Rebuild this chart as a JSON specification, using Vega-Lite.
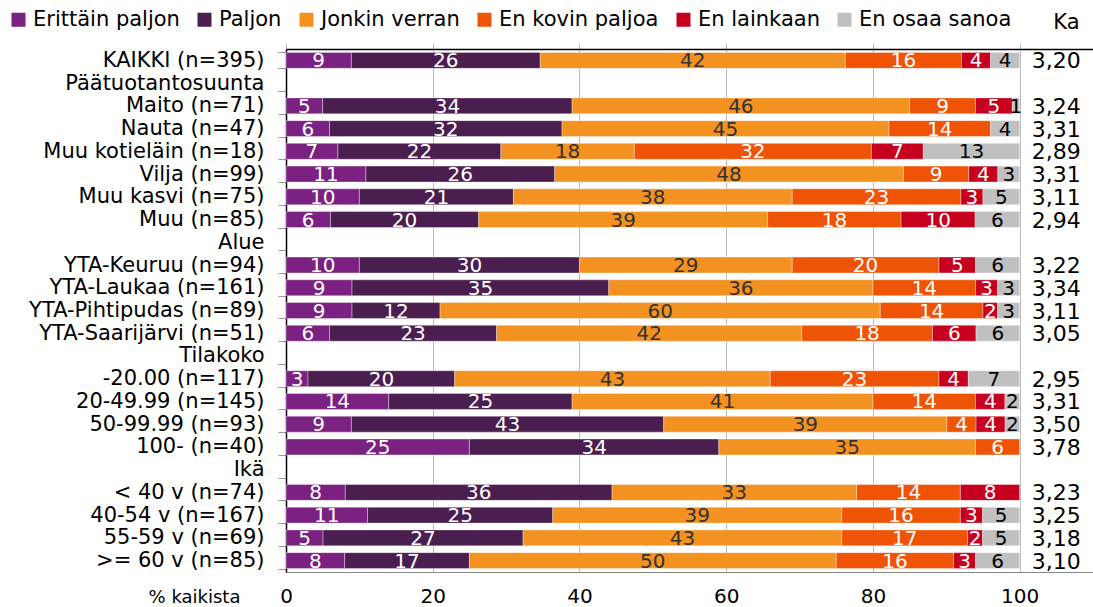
{
  "$schema": "https://vega.github.io/schema/vega-lite/v6.json",
  "autosize": {"type": "none"},
  "width": 807,
  "height": 523,
  "padding": {"left": 286, "top": 49, "right": 0, "bottom": 35},
  "config": {
    "font": "DejaVu Sans",
    "view": {"stroke": null},
    "locale": {"number": {"decimal": ",", "thousands": " ", "grouping": [3], "currency": ["", " €"]}}
  },
  "datasets": {
    "resp": [
      {"cat": "KAIKKI (n=395)", "resp": "Erittäin paljon", "k": 1, "v": 9},
      {"cat": "KAIKKI (n=395)", "resp": "Paljon", "k": 2, "v": 26},
      {"cat": "KAIKKI (n=395)", "resp": "Jonkin verran", "k": 3, "v": 42},
      {"cat": "KAIKKI (n=395)", "resp": "En kovin paljoa", "k": 4, "v": 16},
      {"cat": "KAIKKI (n=395)", "resp": "En lainkaan", "k": 5, "v": 4},
      {"cat": "KAIKKI (n=395)", "resp": "En osaa sanoa", "k": 6, "v": 4},
      {"cat": "Maito (n=71)", "resp": "Erittäin paljon", "k": 1, "v": 5},
      {"cat": "Maito (n=71)", "resp": "Paljon", "k": 2, "v": 34},
      {"cat": "Maito (n=71)", "resp": "Jonkin verran", "k": 3, "v": 46},
      {"cat": "Maito (n=71)", "resp": "En kovin paljoa", "k": 4, "v": 9},
      {"cat": "Maito (n=71)", "resp": "En lainkaan", "k": 5, "v": 5},
      {"cat": "Maito (n=71)", "resp": "En osaa sanoa", "k": 6, "v": 1},
      {"cat": "Nauta (n=47)", "resp": "Erittäin paljon", "k": 1, "v": 6},
      {"cat": "Nauta (n=47)", "resp": "Paljon", "k": 2, "v": 32},
      {"cat": "Nauta (n=47)", "resp": "Jonkin verran", "k": 3, "v": 45},
      {"cat": "Nauta (n=47)", "resp": "En kovin paljoa", "k": 4, "v": 14},
      {"cat": "Nauta (n=47)", "resp": "En osaa sanoa", "k": 6, "v": 4},
      {"cat": "Muu kotieläin (n=18)", "resp": "Erittäin paljon", "k": 1, "v": 7},
      {"cat": "Muu kotieläin (n=18)", "resp": "Paljon", "k": 2, "v": 22},
      {"cat": "Muu kotieläin (n=18)", "resp": "Jonkin verran", "k": 3, "v": 18},
      {"cat": "Muu kotieläin (n=18)", "resp": "En kovin paljoa", "k": 4, "v": 32},
      {"cat": "Muu kotieläin (n=18)", "resp": "En lainkaan", "k": 5, "v": 7},
      {"cat": "Muu kotieläin (n=18)", "resp": "En osaa sanoa", "k": 6, "v": 13},
      {"cat": "Vilja (n=99)", "resp": "Erittäin paljon", "k": 1, "v": 11},
      {"cat": "Vilja (n=99)", "resp": "Paljon", "k": 2, "v": 26},
      {"cat": "Vilja (n=99)", "resp": "Jonkin verran", "k": 3, "v": 48},
      {"cat": "Vilja (n=99)", "resp": "En kovin paljoa", "k": 4, "v": 9},
      {"cat": "Vilja (n=99)", "resp": "En lainkaan", "k": 5, "v": 4},
      {"cat": "Vilja (n=99)", "resp": "En osaa sanoa", "k": 6, "v": 3},
      {"cat": "Muu kasvi (n=75)", "resp": "Erittäin paljon", "k": 1, "v": 10},
      {"cat": "Muu kasvi (n=75)", "resp": "Paljon", "k": 2, "v": 21},
      {"cat": "Muu kasvi (n=75)", "resp": "Jonkin verran", "k": 3, "v": 38},
      {"cat": "Muu kasvi (n=75)", "resp": "En kovin paljoa", "k": 4, "v": 23},
      {"cat": "Muu kasvi (n=75)", "resp": "En lainkaan", "k": 5, "v": 3},
      {"cat": "Muu kasvi (n=75)", "resp": "En osaa sanoa", "k": 6, "v": 5},
      {"cat": "Muu (n=85)", "resp": "Erittäin paljon", "k": 1, "v": 6},
      {"cat": "Muu (n=85)", "resp": "Paljon", "k": 2, "v": 20},
      {"cat": "Muu (n=85)", "resp": "Jonkin verran", "k": 3, "v": 39},
      {"cat": "Muu (n=85)", "resp": "En kovin paljoa", "k": 4, "v": 18},
      {"cat": "Muu (n=85)", "resp": "En lainkaan", "k": 5, "v": 10},
      {"cat": "Muu (n=85)", "resp": "En osaa sanoa", "k": 6, "v": 6},
      {"cat": "YTA-Keuruu (n=94)", "resp": "Erittäin paljon", "k": 1, "v": 10},
      {"cat": "YTA-Keuruu (n=94)", "resp": "Paljon", "k": 2, "v": 30},
      {"cat": "YTA-Keuruu (n=94)", "resp": "Jonkin verran", "k": 3, "v": 29},
      {"cat": "YTA-Keuruu (n=94)", "resp": "En kovin paljoa", "k": 4, "v": 20},
      {"cat": "YTA-Keuruu (n=94)", "resp": "En lainkaan", "k": 5, "v": 5},
      {"cat": "YTA-Keuruu (n=94)", "resp": "En osaa sanoa", "k": 6, "v": 6},
      {"cat": "YTA-Laukaa (n=161)", "resp": "Erittäin paljon", "k": 1, "v": 9},
      {"cat": "YTA-Laukaa (n=161)", "resp": "Paljon", "k": 2, "v": 35},
      {"cat": "YTA-Laukaa (n=161)", "resp": "Jonkin verran", "k": 3, "v": 36},
      {"cat": "YTA-Laukaa (n=161)", "resp": "En kovin paljoa", "k": 4, "v": 14},
      {"cat": "YTA-Laukaa (n=161)", "resp": "En lainkaan", "k": 5, "v": 3},
      {"cat": "YTA-Laukaa (n=161)", "resp": "En osaa sanoa", "k": 6, "v": 3},
      {"cat": "YTA-Pihtipudas (n=89)", "resp": "Erittäin paljon", "k": 1, "v": 9},
      {"cat": "YTA-Pihtipudas (n=89)", "resp": "Paljon", "k": 2, "v": 12},
      {"cat": "YTA-Pihtipudas (n=89)", "resp": "Jonkin verran", "k": 3, "v": 60},
      {"cat": "YTA-Pihtipudas (n=89)", "resp": "En kovin paljoa", "k": 4, "v": 14},
      {"cat": "YTA-Pihtipudas (n=89)", "resp": "En lainkaan", "k": 5, "v": 2},
      {"cat": "YTA-Pihtipudas (n=89)", "resp": "En osaa sanoa", "k": 6, "v": 3},
      {"cat": "YTA-Saarijärvi (n=51)", "resp": "Erittäin paljon", "k": 1, "v": 6},
      {"cat": "YTA-Saarijärvi (n=51)", "resp": "Paljon", "k": 2, "v": 23},
      {"cat": "YTA-Saarijärvi (n=51)", "resp": "Jonkin verran", "k": 3, "v": 42},
      {"cat": "YTA-Saarijärvi (n=51)", "resp": "En kovin paljoa", "k": 4, "v": 18},
      {"cat": "YTA-Saarijärvi (n=51)", "resp": "En lainkaan", "k": 5, "v": 6},
      {"cat": "YTA-Saarijärvi (n=51)", "resp": "En osaa sanoa", "k": 6, "v": 6},
      {"cat": "-20.00 (n=117)", "resp": "Erittäin paljon", "k": 1, "v": 3},
      {"cat": "-20.00 (n=117)", "resp": "Paljon", "k": 2, "v": 20},
      {"cat": "-20.00 (n=117)", "resp": "Jonkin verran", "k": 3, "v": 43},
      {"cat": "-20.00 (n=117)", "resp": "En kovin paljoa", "k": 4, "v": 23},
      {"cat": "-20.00 (n=117)", "resp": "En lainkaan", "k": 5, "v": 4},
      {"cat": "-20.00 (n=117)", "resp": "En osaa sanoa", "k": 6, "v": 7},
      {"cat": "20-49.99 (n=145)", "resp": "Erittäin paljon", "k": 1, "v": 14},
      {"cat": "20-49.99 (n=145)", "resp": "Paljon", "k": 2, "v": 25},
      {"cat": "20-49.99 (n=145)", "resp": "Jonkin verran", "k": 3, "v": 41},
      {"cat": "20-49.99 (n=145)", "resp": "En kovin paljoa", "k": 4, "v": 14},
      {"cat": "20-49.99 (n=145)", "resp": "En lainkaan", "k": 5, "v": 4},
      {"cat": "20-49.99 (n=145)", "resp": "En osaa sanoa", "k": 6, "v": 2},
      {"cat": "50-99.99 (n=93)", "resp": "Erittäin paljon", "k": 1, "v": 9},
      {"cat": "50-99.99 (n=93)", "resp": "Paljon", "k": 2, "v": 43},
      {"cat": "50-99.99 (n=93)", "resp": "Jonkin verran", "k": 3, "v": 39},
      {"cat": "50-99.99 (n=93)", "resp": "En kovin paljoa", "k": 4, "v": 4},
      {"cat": "50-99.99 (n=93)", "resp": "En lainkaan", "k": 5, "v": 4},
      {"cat": "50-99.99 (n=93)", "resp": "En osaa sanoa", "k": 6, "v": 2},
      {"cat": "100- (n=40)", "resp": "Erittäin paljon", "k": 1, "v": 25},
      {"cat": "100- (n=40)", "resp": "Paljon", "k": 2, "v": 34},
      {"cat": "100- (n=40)", "resp": "Jonkin verran", "k": 3, "v": 35},
      {"cat": "100- (n=40)", "resp": "En kovin paljoa", "k": 4, "v": 6},
      {"cat": "< 40 v (n=74)", "resp": "Erittäin paljon", "k": 1, "v": 8},
      {"cat": "< 40 v (n=74)", "resp": "Paljon", "k": 2, "v": 36},
      {"cat": "< 40 v (n=74)", "resp": "Jonkin verran", "k": 3, "v": 33},
      {"cat": "< 40 v (n=74)", "resp": "En kovin paljoa", "k": 4, "v": 14},
      {"cat": "< 40 v (n=74)", "resp": "En lainkaan", "k": 5, "v": 8},
      {"cat": "40-54 v (n=167)", "resp": "Erittäin paljon", "k": 1, "v": 11},
      {"cat": "40-54 v (n=167)", "resp": "Paljon", "k": 2, "v": 25},
      {"cat": "40-54 v (n=167)", "resp": "Jonkin verran", "k": 3, "v": 39},
      {"cat": "40-54 v (n=167)", "resp": "En kovin paljoa", "k": 4, "v": 16},
      {"cat": "40-54 v (n=167)", "resp": "En lainkaan", "k": 5, "v": 3},
      {"cat": "40-54 v (n=167)", "resp": "En osaa sanoa", "k": 6, "v": 5},
      {"cat": "55-59 v (n=69)", "resp": "Erittäin paljon", "k": 1, "v": 5},
      {"cat": "55-59 v (n=69)", "resp": "Paljon", "k": 2, "v": 27},
      {"cat": "55-59 v (n=69)", "resp": "Jonkin verran", "k": 3, "v": 43},
      {"cat": "55-59 v (n=69)", "resp": "En kovin paljoa", "k": 4, "v": 17},
      {"cat": "55-59 v (n=69)", "resp": "En lainkaan", "k": 5, "v": 2},
      {"cat": "55-59 v (n=69)", "resp": "En osaa sanoa", "k": 6, "v": 5},
      {"cat": ">= 60 v (n=85)", "resp": "Erittäin paljon", "k": 1, "v": 8},
      {"cat": ">= 60 v (n=85)", "resp": "Paljon", "k": 2, "v": 17},
      {"cat": ">= 60 v (n=85)", "resp": "Jonkin verran", "k": 3, "v": 50},
      {"cat": ">= 60 v (n=85)", "resp": "En kovin paljoa", "k": 4, "v": 16},
      {"cat": ">= 60 v (n=85)", "resp": "En lainkaan", "k": 5, "v": 3},
      {"cat": ">= 60 v (n=85)", "resp": "En osaa sanoa", "k": 6, "v": 6}
    ],
    "ka": [
      {"cat": "KAIKKI (n=395)", "ka": 3.20},
      {"cat": "Maito (n=71)", "ka": 3.24},
      {"cat": "Nauta (n=47)", "ka": 3.31},
      {"cat": "Muu kotieläin (n=18)", "ka": 2.89},
      {"cat": "Vilja (n=99)", "ka": 3.31},
      {"cat": "Muu kasvi (n=75)", "ka": 3.11},
      {"cat": "Muu (n=85)", "ka": 2.94},
      {"cat": "YTA-Keuruu (n=94)", "ka": 3.22},
      {"cat": "YTA-Laukaa (n=161)", "ka": 3.34},
      {"cat": "YTA-Pihtipudas (n=89)", "ka": 3.11},
      {"cat": "YTA-Saarijärvi (n=51)", "ka": 3.05},
      {"cat": "-20.00 (n=117)", "ka": 2.95},
      {"cat": "20-49.99 (n=145)", "ka": 3.31},
      {"cat": "50-99.99 (n=93)", "ka": 3.50},
      {"cat": "100- (n=40)", "ka": 3.78},
      {"cat": "< 40 v (n=74)", "ka": 3.23},
      {"cat": "40-54 v (n=167)", "ka": 3.25},
      {"cat": "55-59 v (n=69)", "ka": 3.18},
      {"cat": ">= 60 v (n=85)", "ka": 3.10}
    ]
  },
  "encoding": {
    "y": {
      "field": "cat",
      "type": "nominal",
      "scale": {
        "domain": ["KAIKKI (n=395)", "Päätuotantosuunta", "Maito (n=71)", "Nauta (n=47)", "Muu kotieläin (n=18)", "Vilja (n=99)", "Muu kasvi (n=75)", "Muu (n=85)", "Alue", "YTA-Keuruu (n=94)", "YTA-Laukaa (n=161)", "YTA-Pihtipudas (n=89)", "YTA-Saarijärvi (n=51)", "Tilakoko", "-20.00 (n=117)", "20-49.99 (n=145)", "50-99.99 (n=93)", "100- (n=40)", "Ikä", "< 40 v (n=74)", "40-54 v (n=167)", "55-59 v (n=69)", ">= 60 v (n=85)"],
        "paddingInner": 0.3,
        "paddingOuter": 0.15
      },
      "axis": {
        "title": null,
        "domainColor": "#000000",
        "domainWidth": 1.5,
        "tickBand": "extent",
        "tickColor": "#999999",
        "tickSize": 8,
        "labelFontSize": 21,
        "labelColor": "#000000",
        "labelPadding": 14,
        "labelLimit": 300
      }
    }
  },
  "layer": [
    {
      "data": {"name": "resp"},
      "transform": [
        {"stack": "v", "groupby": ["cat"], "sort": [{"field": "k", "order": "ascending"}], "offset": "normalize", "as": ["x0", "x1"]}
      ],
      "mark": {"type": "bar", "stroke": "#ffffff", "strokeWidth": 0.6, "strokeOpacity": 0.6},
      "encoding": {
        "x": {
          "field": "x0",
          "type": "quantitative",
          "scale": {"domain": [0, 1.1], "nice": false, "zero": true},
          "axis": {
            "orient": "bottom",
            "values": [0, 0.2, 0.4, 0.6, 0.8, 1],
            "labelExpr": "format(datum.value * 100, 'd')",
            "grid": true,
            "gridColor": "#bbbbbb",
            "gridWidth": 1,
            "ticks": false,
            "domainColor": "#888888",
            "domainWidth": 1,
            "labelFontSize": 20,
            "labelColor": "#000000",
            "labelBaseline": "alphabetic",
            "labelPadding": 30,
            "labelFlush": false,
            "title": "% kaikista",
            "titleFontSize": 18,
            "titleFontWeight": "normal",
            "titleColor": "#000000",
            "titleX": -92,
            "titleY": 30,
            "titleAlign": "center",
            "titleBaseline": "alphabetic"
          }
        },
        "x2": {"field": "x1"},
        "color": {
          "field": "resp",
          "type": "nominal",
          "scale": {
            "domain": ["Erittäin paljon", "Paljon", "Jonkin verran", "En kovin paljoa", "En lainkaan", "En osaa sanoa"],
            "range": ["#7a2182", "#4b1e50", "#f39121", "#ef5306", "#c6001e", "#c0c0c0"]
          },
          "legend": {
            "orient": "none",
            "legendX": -278,
            "legendY": -40,
            "direction": "horizontal",
            "columns": 6,
            "title": null,
            "symbolType": "square",
            "symbolSize": 196,
            "symbolStrokeWidth": 0,
            "symbolOpacity": 1,
            "labelFontSize": 21,
            "labelColor": "#000000",
            "labelOffset": 4,
            "columnPadding": 14,
            "labelLimit": 400
          }
        },
        "order": {"field": "k", "type": "quantitative"}
      }
    },
    {
      "data": {"name": "resp"},
      "transform": [
        {"stack": "v", "groupby": ["cat"], "sort": [{"field": "k", "order": "ascending"}], "offset": "normalize", "as": ["x0", "x1"]},
        {"fold": ["x0", "x1"], "as": ["edge", "xe"]}
      ],
      "mark": {"type": "text", "fontSize": 20, "baseline": "middle", "align": "center", "dy": 1},
      "encoding": {
        "x": {
          "aggregate": "mean",
          "field": "xe",
          "type": "quantitative",
          "axis": {
            "orient": "top",
            "values": [0, 0.2, 0.4, 0.6, 0.8, 1],
            "labels": false,
            "grid": false,
            "ticks": true,
            "tickColor": "#bbbbbb",
            "tickSize": 6,
            "domainColor": "#000000",
            "domainWidth": 1.5,
            "title": "Ka",
            "titleFontSize": 21,
            "titleFontWeight": "normal",
            "titleColor": "#000000",
            "titleX": 780,
            "titleY": -21,
            "titleAlign": "center",
            "titleBaseline": "alphabetic"
          }
        },
        "detail": {"field": "k", "type": "quantitative"},
        "text": {"field": "v", "type": "quantitative"},
        "color": {
          "condition": [
            {"test": "datum.k == 3", "value": "#333333"},
            {"test": "datum.k == 6", "value": "#000000"}
          ],
          "value": "#ffffff"
        }
      }
    },
    {
      "data": {"name": "ka"},
      "mark": {"type": "text", "fontSize": 22, "baseline": "middle", "align": "center", "color": "#000000", "dy": 1},
      "encoding": {
        "x": {"datum": 1.05, "type": "quantitative", "axis": null},
        "text": {"field": "ka", "type": "quantitative", "format": ".2f"}
      }
    }
  ],
  "resolve": {"axis": {"x": "independent"}}
}
